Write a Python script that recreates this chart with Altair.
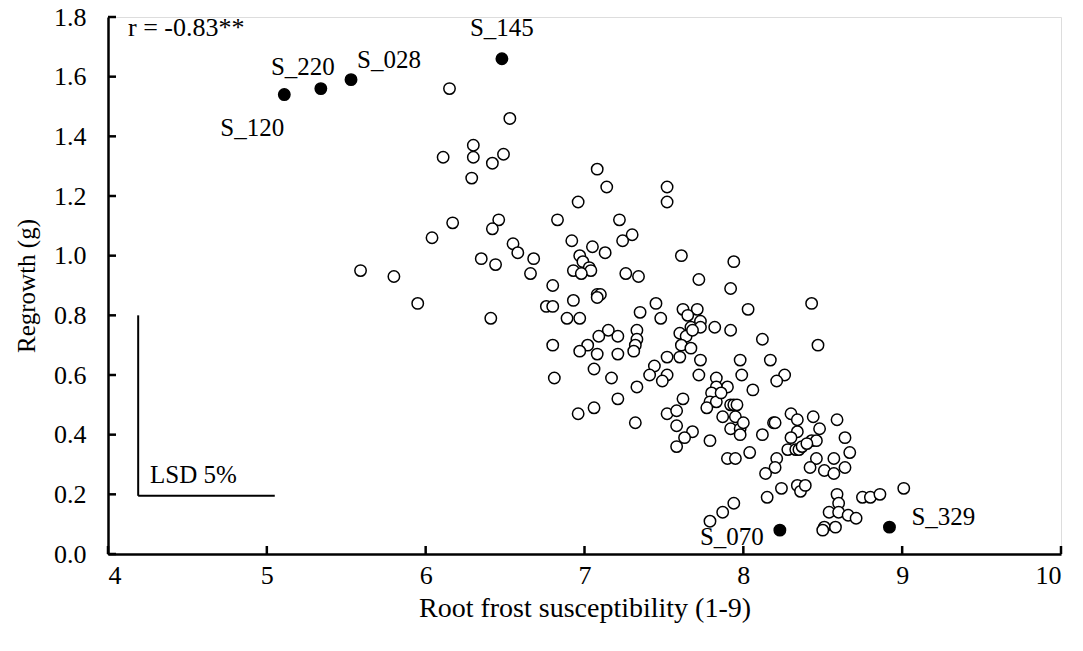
import altair as alt
import pandas as pd

# ---- data ----
open_x = [6.15, 6.53, 6.30, 6.30, 6.11, 6.42, 6.49, 6.29, 6.17, 6.04, 6.46, 6.42, 6.55, 6.58, 6.35, 6.44, 6.68, 6.66,
          5.59, 5.80, 5.95, 6.41, 6.80, 6.76, 6.80, 6.83, 6.80, 6.81,
          7.08, 7.14, 6.96, 7.22, 7.30, 7.24, 6.92, 7.05, 7.13, 6.97, 6.99, 7.03, 7.04, 6.93, 6.98, 7.26, 7.34,
          6.93, 7.08, 7.10, 7.08, 6.89, 6.97, 7.35, 7.45, 7.52, 7.52, 7.61, 7.72, 7.48,
          7.62, 7.71, 7.65, 7.73, 7.67, 7.73, 7.82, 7.60, 7.64, 7.68, 7.61, 7.67, 7.52, 7.60, 7.73,
          7.15, 7.21, 7.09, 7.33, 7.33, 7.32, 7.31, 7.02, 6.97, 7.08, 7.21, 7.06, 7.44, 7.41, 7.52, 7.49, 7.17,
          7.72, 7.83, 7.33, 7.21, 7.62, 7.06, 6.96, 7.52, 7.58, 7.32, 7.58, 7.68, 7.63, 7.58, 7.79,
          7.94, 7.92, 8.03, 8.43, 7.92, 8.12, 8.47, 7.98, 8.17, 7.99, 8.26, 8.21, 7.90, 7.83, 7.80, 8.06,
          7.79, 7.83, 7.77, 7.92, 7.94, 7.96, 7.87, 7.95, 7.92, 7.98, 8.00, 7.98, 8.12, 8.04, 7.90, 7.95,
          8.19, 8.20, 7.86,
          8.30, 8.34, 8.44, 8.59, 8.34, 8.48, 8.30, 8.43, 8.46, 8.64, 8.28, 8.33, 8.35, 8.37, 8.40, 8.21,
          8.67, 8.46, 8.57, 8.20, 8.14, 8.42, 8.51, 8.57, 8.64, 8.24, 8.15, 8.34, 8.36, 8.39, 8.59, 8.60,
          8.54, 8.60, 8.66, 8.71, 8.51, 8.50, 8.58, 8.75, 8.80, 8.86, 9.01, 7.79, 7.87, 7.94]
open_y = [1.56, 1.46, 1.37, 1.33, 1.33, 1.31, 1.34, 1.26, 1.11, 1.06, 1.12, 1.09, 1.04, 1.01, 0.99, 0.97, 0.99, 0.94,
          0.95, 0.93, 0.84, 0.79, 0.90, 0.83, 0.83, 1.12, 0.70, 0.59,
          1.29, 1.23, 1.18, 1.12, 1.07, 1.05, 1.05, 1.03, 1.01, 1.00, 0.98, 0.96, 0.95, 0.95, 0.94, 0.94, 0.93,
          0.85, 0.87, 0.87, 0.86, 0.79, 0.79, 0.81, 0.84, 1.23, 1.18, 1.00, 0.92, 0.79,
          0.82, 0.82, 0.80, 0.78, 0.76, 0.76, 0.76, 0.74, 0.73, 0.75, 0.70, 0.69, 0.66, 0.66, 0.65,
          0.75, 0.73, 0.73, 0.75, 0.72, 0.70, 0.68, 0.70, 0.68, 0.67, 0.67, 0.62, 0.63, 0.60, 0.60, 0.58, 0.59,
          0.60, 0.59, 0.56, 0.52, 0.52, 0.49, 0.47, 0.47, 0.48, 0.44, 0.43, 0.41, 0.39, 0.36, 0.38,
          0.98, 0.89, 0.82, 0.84, 0.75, 0.72, 0.70, 0.65, 0.65, 0.60, 0.60, 0.58, 0.56, 0.56, 0.54, 0.55,
          0.51, 0.51, 0.49, 0.50, 0.50, 0.50, 0.46, 0.46, 0.42, 0.42, 0.44, 0.40, 0.40, 0.34, 0.32, 0.32,
          0.44, 0.44, 0.54,
          0.47, 0.45, 0.46, 0.45, 0.41, 0.42, 0.39, 0.38, 0.38, 0.39, 0.35, 0.35, 0.35, 0.36, 0.37, 0.32,
          0.34, 0.32, 0.32, 0.29, 0.27, 0.29, 0.28, 0.27, 0.29, 0.22, 0.19, 0.23, 0.21, 0.23, 0.20, 0.17,
          0.14, 0.14, 0.13, 0.12, 0.09, 0.08, 0.09, 0.19, 0.19, 0.20, 0.22, 0.11, 0.14, 0.17]

sel_names = ["S_120", "S_220", "S_028", "S_145", "S_070", "S_329"]
sel_x = [5.11, 5.34, 5.53, 6.48, 8.23, 8.92]
sel_y = [1.54, 1.56, 1.59, 1.66, 0.08, 0.09]

x_ticks = [4, 5, 6, 7, 8, 9, 10]
y_ticks = [0.0, 0.2, 0.4, 0.6, 0.8, 1.0, 1.2, 1.4, 1.6, 1.8]

lsd_x = [4.19, 5.05]      # horizontal LSD bar (x)
lsd_y = [0.195, 0.80]     # vertical LSD bar (y)

X_TITLE = "Root frost susceptibility (1-9)"
Y_TITLE = "Regrowth (g)"
R_TEXT = "r = -0.83**"
LSD_TEXT = "LSD 5%"

# ---- styling ----
FONT = "Liberation Serif"
W, H = 953, 537
# label placement: (align, dx, dy)
LABEL_STYLE = {
    "S_120": ("center", -32, 33),
    "S_220": ("center", -18, -22),
    "S_028": ("left", 6, -20),
    "S_145": ("center", 0, -31),
    "S_070": ("right", -16, 7),
    "S_329": ("left", 22, -10),
}

xscale = alt.Scale(domain=[4, 10], nice=False, zero=False)
yscale = alt.Scale(domain=[0, 1.8], nice=False, zero=False)
xaxis = alt.Axis(values=x_ticks, format="d", ticks=False, grid=False, domainWidth=2.5,
                 domainColor="black", labelFont=FONT, labelFontSize=26, labelColor="black",
                 labelPadding=8, titleFont=FONT, titleFontSize=28, titleFontWeight="normal",
                 titleColor="black", titlePadding=6)
yaxis = alt.Axis(values=y_ticks, format=".1f", ticks=False, grid=False, domainWidth=2.5,
                 domainColor="black", labelFont=FONT, labelFontSize=26, labelColor="black",
                 labelPadding=22, titleFont=FONT, titleFontSize=25, titleFontWeight="normal",
                 titleColor="black", titlePadding=14)


def X(field):
    return alt.X(field, type="quantitative", scale=xscale, axis=xaxis, title=X_TITLE)


def Y(field):
    return alt.Y(field, type="quantitative", scale=yscale, axis=yaxis, title=Y_TITLE)


df_open = pd.DataFrame({"x": open_x, "y": open_y})
df_sel = pd.DataFrame({"x": sel_x, "y": sel_y, "name": sel_names})

open_pts = alt.Chart(df_open).mark_point(
    shape="circle", filled=True, fill="white", stroke="black", strokeWidth=1.5, size=130, opacity=1
).encode(x=X("x"), y=Y("y"))

sel_pts = alt.Chart(df_sel).mark_point(
    shape="circle", filled=True, fill="black", stroke="black", strokeWidth=1.5, size=130, opacity=1
).encode(x=X("x"), y=Y("y"))

labels = []
for nm in sel_names:
    al, dx, dy = LABEL_STYLE[nm]
    labels.append(
        alt.Chart(df_sel[df_sel["name"] == nm]).mark_text(
            align=al, baseline="middle", dx=dx, dy=dy, font=FONT, fontSize=25, color="black"
        ).encode(x=X("x"), y=Y("y"), text="name:N")
    )

yt = alt.Chart(pd.DataFrame({"t": y_ticks})).mark_rule(color="black", strokeWidth=2.5).encode(
    y=Y("t"), x=alt.value(0), x2=alt.value(8))
xt = alt.Chart(pd.DataFrame({"t": x_ticks})).mark_rule(color="black", strokeWidth=2.5).encode(
    x=X("t"), y=alt.value(H), y2=alt.value(H - 8))

lsd_v = alt.Chart(pd.DataFrame({"x": [lsd_x[0]], "y": [lsd_y[0]], "y2": [lsd_y[1]]})).mark_rule(
    color="black", strokeWidth=2).encode(x=X("x"), y=Y("y"), y2="y2")
lsd_h = alt.Chart(pd.DataFrame({"x": [lsd_x[0]], "x2": [lsd_x[1]], "y": [lsd_y[0]]})).mark_rule(
    color="black", strokeWidth=2).encode(x=X("x"), x2="x2", y=Y("y"))

lsd_txt = alt.Chart(pd.DataFrame({"t": [LSD_TEXT]})).mark_text(
    align="left", baseline="middle", font=FONT, fontSize=25, color="black"
).encode(x=alt.value(42), y=alt.value(458), text="t:N")
r_txt = alt.Chart(pd.DataFrame({"t": [R_TEXT]})).mark_text(
    align="left", baseline="middle", font=FONT, fontSize=26, color="black"
).encode(x=alt.value(20), y=alt.value(11), text="t:N")

chart = alt.layer(open_pts, sel_pts, *labels, yt, xt, lsd_v, lsd_h, lsd_txt, r_txt).properties(
    width=W, height=H,
    autosize=alt.AutoSizeParams(type="none"),
    padding={"left": 108, "top": 17, "right": 22, "bottom": 97},
).configure_view(stroke=None).configure(background="white")

chart.save("out.html", embed_options={"renderer": "svg", "actions": False})
